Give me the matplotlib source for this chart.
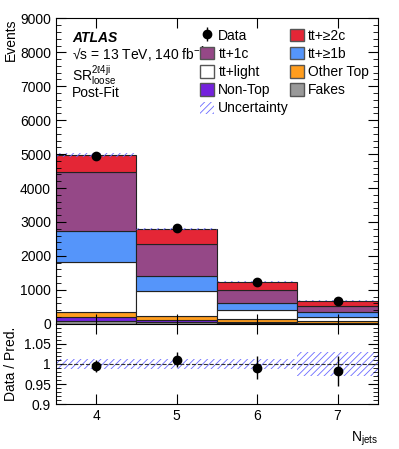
import numpy as np
import matplotlib
matplotlib.use("Agg")
import matplotlib.pyplot as plt
from matplotlib.patches import Patch
from matplotlib.ticker import MultipleLocator

plt.rcParams['font.family'] = ['Liberation Sans', 'DejaVu Sans']
plt.rcParams['mathtext.fontset'] = 'custom'
plt.rcParams['mathtext.rm'] = 'Liberation Sans'
plt.rcParams['mathtext.it'] = 'Liberation Sans:italic'
plt.rcParams['hatch.linewidth'] = 0.6

# bins
njets = [4, 5, 6, 7]

# stack components, bottom to top
fakes = [68, 40, 20, 15]
nontop = [118, 70, 25, 15]
othertop = [147, 126, 94, 58]
ttlight = [1497, 717, 265, 118]
tt1b = [910, 454, 196, 127]
tt1c = [1730, 943, 383, 177]
tt2c = [490, 443, 259, 172]

# data
data = [4935, 2823, 1230, 670]
data_err = [70, 53, 35, 26]

# relative uncertainty of prediction
rel_unc = [0.012, 0.012, 0.012, 0.030]

comps = [
    ("Fakes", fakes, "#999999"),
    ("Non-Top", nontop, "#7422dd"),
    ("Other Top", othertop, "#ff9d1e"),
    ("tt+light", ttlight, "#ffffff"),
    ("tt+\u22651b", tt1b, "#5595fa"),
    ("tt+1c", tt1c, "#954887"),
    ("tt+\u22652c", tt2c, "#e42636"),
]
fs = 10
hcol = "#6a6aff"

x = np.array(njets)
fig = plt.figure(figsize=(3.99, 4.49), dpi=100)
ax = fig.add_axes([0.140, 0.279, 0.807, 0.680])
rax = fig.add_axes([0.140, 0.100, 0.807, 0.179], sharex=ax)

bottom = np.zeros(len(x))
for name, vals, col in comps:
    ax.bar(x, vals, width=1.0, bottom=bottom, color=col,
           edgecolor="#222222", linewidth=0.8)
    bottom = bottom + np.array(vals)
total = bottom

unc = total * np.array(rel_unc)
ax.bar(x, 2 * unc, width=1.0, bottom=total - unc, color="none",
       edgecolor=hcol, hatch="/////", linewidth=0)

deb = ax.errorbar(x, data, yerr=data_err, fmt="o", color="black",
                  markersize=6, elinewidth=1, capsize=0)

ratio = np.array(data) / total
ratio_err = np.array(data_err) / total
rax.bar(x, 2 * np.array(rel_unc), width=1.0, bottom=1 - np.array(rel_unc),
        color="none", edgecolor=hcol, hatch="/////", linewidth=0)
rax.axhline(1.0, color="#333333", linestyle="--", linewidth=0.8)
rax.errorbar(x, ratio, yerr=ratio_err, fmt="o", color="black",
             markersize=6, elinewidth=1, capsize=0)

ax.set_xlim(3.5, 7.5)
ax.set_ylim(0, 9000)
rax.set_ylim(0.9, 1.1)

ax.yaxis.set_major_locator(MultipleLocator(1000))
ax.yaxis.set_minor_locator(MultipleLocator(200))
rax.yaxis.set_minor_locator(MultipleLocator(0.01))
rax.set_xticks(njets)
rax.set_yticks([0.9, 0.95, 1.0, 1.05])
rax.set_yticklabels(["0.9", "0.95", "1", "1.05"])

for a in (ax, rax):
    a.tick_params(which="both", direction="in", top=True, right=True, labelsize=fs)
    a.tick_params(which="major", length=7)
    a.tick_params(which="minor", length=3.5)
    a.tick_params(axis="x", which="minor", top=False, bottom=False)
plt.setp(ax.get_xticklabels(), visible=False)

ax.set_ylabel("Events", fontsize=fs, loc="top")
rax.set_ylabel("Data / Pred.", fontsize=fs)
rax.set_xlabel("N$_{\\rm jets}$", fontsize=fs, loc="right", labelpad=5)
ax.yaxis.set_label_coords(-0.118, 1.0)
rax.yaxis.set_label_coords(-0.118, 0.5)

ax.text(0.05, 0.922, "ATLAS", transform=ax.transAxes, fontsize=fs,
        fontweight="bold", fontstyle="italic")
ax.text(0.05, 0.865, "\u221As = 13 TeV, 140 fb$^{-1}$", transform=ax.transAxes,
        fontsize=fs)
ax.text(0.05, 0.795, "SR$^{\\rm 2\u21134ji}_{\\rm loose}$", transform=ax.transAxes,
        fontsize=fs)
ax.text(0.05, 0.742, "Post-Fit", transform=ax.transAxes, fontsize=fs)

pe = "#555555"
handles = [
    deb,
    Patch(facecolor="#e42636", edgecolor=pe),
    Patch(facecolor="#954887", edgecolor=pe),
    Patch(facecolor="#5595fa", edgecolor=pe),
    Patch(facecolor="#ffffff", edgecolor=pe),
    Patch(facecolor="#ff9d1e", edgecolor=pe),
    Patch(facecolor="#7422dd", edgecolor=pe),
    Patch(facecolor="#999999", edgecolor=pe),
    Patch(facecolor="none", edgecolor=hcol, hatch="/////", linewidth=0),
]
labels = ["Data", "tt+\u22652c", "tt+1c", "tt+\u22651b", "tt+light", "Other Top",
          "Non-Top", "Fakes", "Uncertainty"]
# reorder for 2-column row-wise layout
order = [0, 2, 4, 6, 8, 1, 3, 5, 7]
ax.legend([handles[i] for i in order], [labels[i] for i in order], ncol=2,
          loc="upper left", bbox_to_anchor=(0.44, 0.975), frameon=False,
          fontsize=fs, handlelength=1.0, handleheight=1.0, handletextpad=0.3,
          columnspacing=0.05, labelspacing=0.3, borderaxespad=0,
          borderpad=0.2)

fig.savefig("out.png", dpi=100)
